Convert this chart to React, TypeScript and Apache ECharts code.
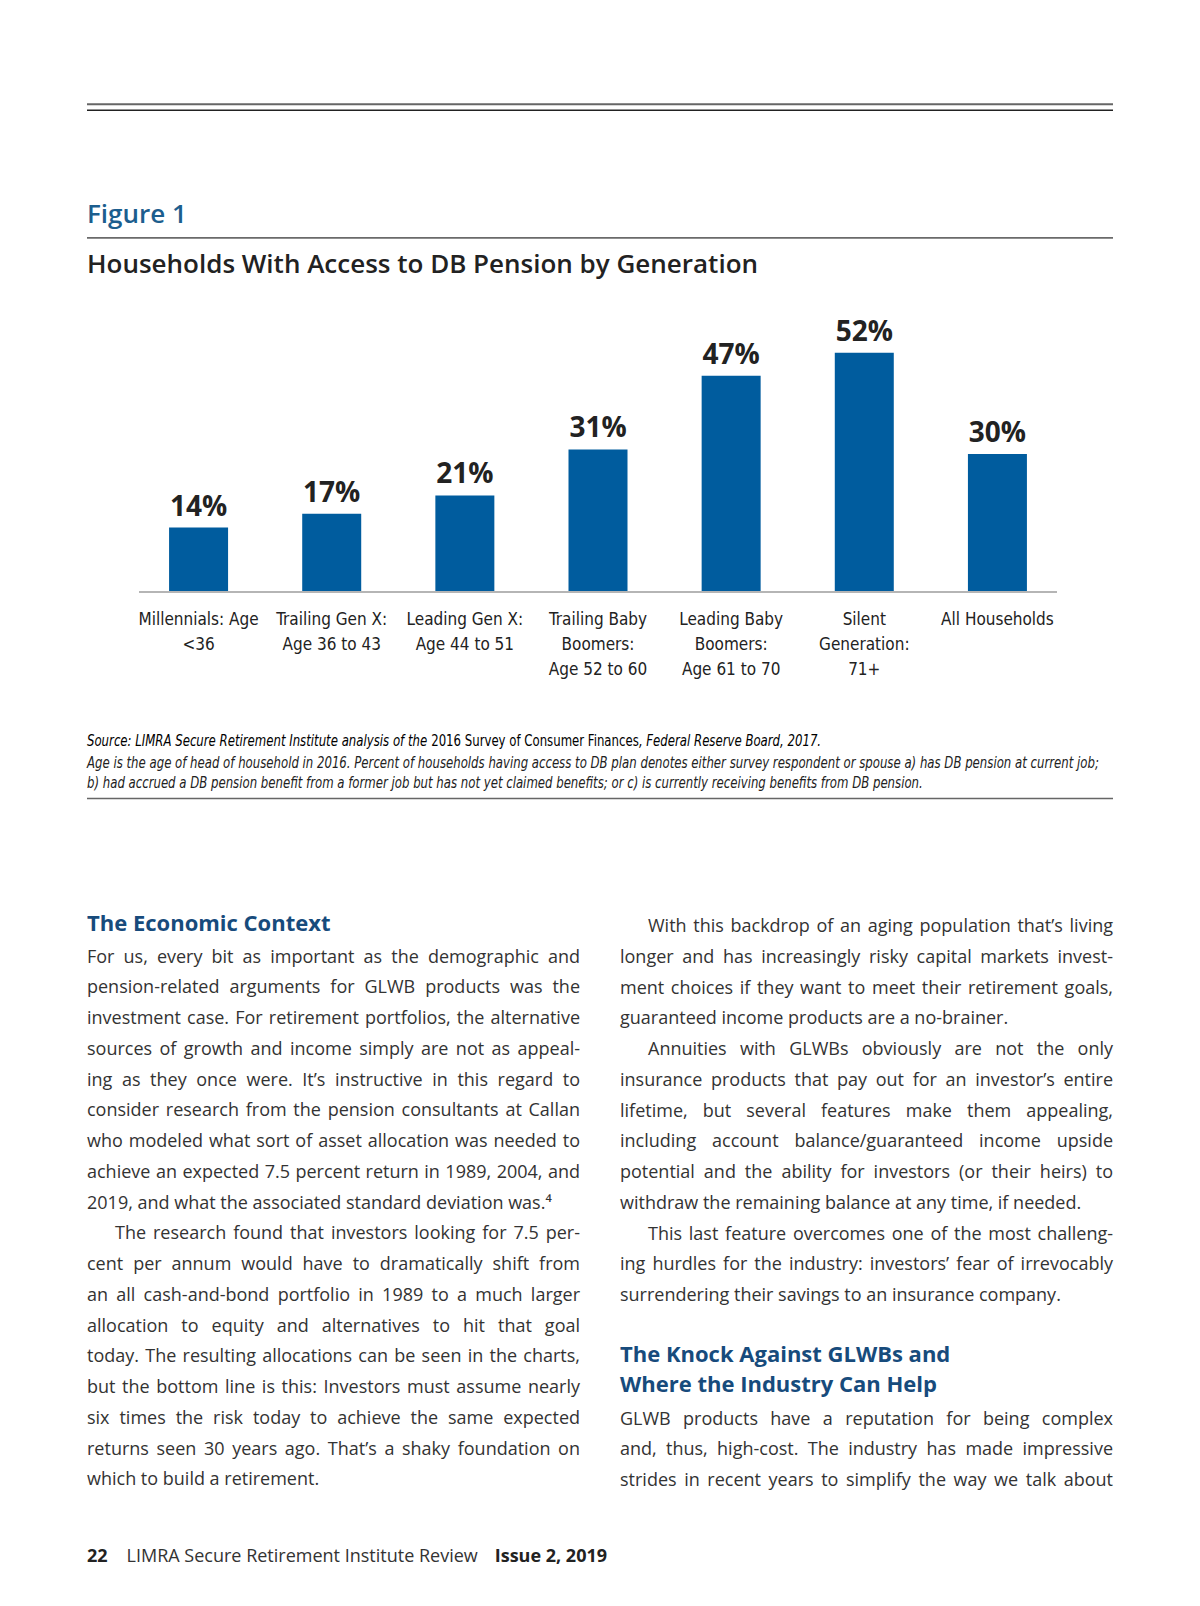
import React, { useEffect, useRef } from "react";
import * as echarts from "echarts";

const categories = [
  "Millennials: Age\n<36",
  "Trailing Gen X:\nAge 36 to 43",
  "Leading Gen X:\nAge 44 to 51",
  "Trailing Baby\nBoomers:\nAge 52 to 60",
  "Leading Baby\nBoomers:\nAge 61 to 70",
  "Silent\nGeneration:\n71+",
  "All Households",
];
const values = [14, 17, 21, 31, 47, 52, 30];

const figureLabel = "Figure 1";
const chartTitle = "Households With Access to DB Pension by Generation";
const sourceLine2 =
  "Age is the age of head of household in 2016. Percent of households having access to DB plan denotes either survey respondent or spouse a) has DB pension at current job;";
const sourceLine3 =
  "b) had accrued a DB pension benefit from a former job but has not yet claimed benefits; or c) is currently receiving benefits from DB pension.";

// [text, indent, justify]
type L = [string, boolean, boolean];
const leftHeading = "The Economic Context";
const leftLines: L[] = [
  ["For us, every bit as important as the demographic and", false, true],
  ["pension-related arguments for GLWB products was the", false, true],
  ["investment case. For retirement portfolios, the alternative", false, true],
  ["sources of growth and income simply are not as appeal-", false, true],
  ["ing as they once were. It\u2019s instructive in this regard to", false, true],
  ["consider research from the pension consultants at Callan", false, true],
  ["who modeled what sort of asset allocation was needed to", false, true],
  ["achieve an expected 7.5 percent return in 1989, 2004, and", false, true],
  ["2019, and what the associated standard deviation was.\u2074", false, false],
  ["The research found that investors looking for 7.5 per-", true, true],
  ["cent per annum would have to dramatically shift from", false, true],
  ["an all cash-and-bond portfolio in 1989 to a much larger", false, true],
  ["allocation to equity and alternatives to hit that goal", false, true],
  ["today. The resulting allocations can be seen in the charts,", false, true],
  ["but the bottom line is this: Investors must assume nearly", false, true],
  ["six times the risk today to achieve the same expected", false, true],
  ["returns seen 30 years ago. That\u2019s a shaky foundation on", false, true],
  ["which to build a retirement.", false, false],
];
const rightLinesA: L[] = [
  ["With this backdrop of an aging population that\u2019s living", true, true],
  ["longer and has increasingly risky capital markets invest-", false, true],
  ["ment choices if they want to meet their retirement goals,", false, true],
  ["guaranteed income products are a no-brainer.", false, false],
  ["Annuities with GLWBs obviously are not the only", true, true],
  ["insurance products that pay out for an investor\u2019s entire", false, true],
  ["lifetime, but several features make them appealing,", false, true],
  ["including account balance/guaranteed income upside", false, true],
  ["potential and the ability for investors (or their heirs) to", false, true],
  ["withdraw the remaining balance at any time, if needed.", false, false],
  ["This last feature overcomes one of the most challeng-", true, true],
  ["ing hurdles for the industry: investors\u2019 fear of irrevocably", false, true],
  ["surrendering their savings to an insurance company.", false, false],
];
const rightHeading = ["The Knock Against GLWBs and", "Where the Industry Can Help"];
const rightLinesB: L[] = [
  ["GLWB products have a reputation for being complex", false, true],
  ["and, thus, high-cost. The industry has made impressive", false, true],
  ["strides in recent years to simplify the way we talk about", false, true],
];
const footerPage = "22";
const footerPub = "LIMRA Secure Retirement Institute Review";
const footerIssue = "Issue 2, 2019";

const NARROW = '"DejaVu Sans Condensed", "Liberation Sans Narrow", sans-serif';
const SANS = '"Open Sans", "Noto Sans", sans-serif';
const LH = 30.75;
const COLW = 493;

function TextLine({ x, y, line }: { x: number; y: number; line: L }) {
  const [text, indent, justify] = line;
  const ind = indent ? 28 : 0;
  return (
    <div
      style={{
        position: "absolute",
        left: x + ind,
        top: y - LH / 2,
        width: COLW - ind,
        height: LH,
        lineHeight: LH + "px",
        whiteSpace: "nowrap",
        textAlign: justify ? "justify" : "left",
        textAlignLast: justify ? "justify" : "left",
        fontFamily: SANS,
        fontSize: 18,
        color: "#333",
      } as React.CSSProperties}
    >
      {text}
    </div>
  );
}

function Heading({ x, y, text }: { x: number; y: number; text: string }) {
  return (
    <div
      style={{
        position: "absolute",
        left: x,
        top: y - 15,
        height: 30,
        lineHeight: "30px",
        whiteSpace: "nowrap",
        fontFamily: SANS,
        fontWeight: 700,
        fontSize: 22,
        color: "#174b7c",
      }}
    >
      {text}
    </div>
  );
}

export default function App() {
  const ref = useRef<HTMLDivElement>(null);
  useEffect(() => {
    if (!ref.current) return;
    const chart = echarts.init(ref.current, undefined, { renderer: "svg" });
    const SX = 0.87;
    const italic = {
      fontFamily: NARROW,
      fontSize: 15,
      fontStyle: "italic",
      fill: "#222",
    };
    chart.setOption({
      animation: false,
      grid: { left: 132, width: 932, top: 316, height: 276, outerBoundsMode: "none" },
      xAxis: {
        type: "category",
        data: categories,
        axisTick: { show: false },
        axisLine: { show: false },
        axisLabel: {
          interval: 0,
          margin: 14,
          fontSize: 17,
          lineHeight: 25,
          color: "#222",
          fontFamily: NARROW,
        },
      },
      yAxis: { type: "value", min: 0, max: 60, show: false },
      series: [
        {
          type: "bar",
          data: values,
          barWidth: 59,
          itemStyle: { color: "#005c9e" },
          label: {
            show: true,
            position: "top",
            distance: 9,
            formatter: "{c}%",
            fontSize: 28,
            fontWeight: "bold",
            fontFamily: SANS,
            color: "#222",
          },
        },
      ],
      graphic: [
        { type: "line", shape: { x1: 87, y1: 104.3, x2: 1113, y2: 104.3 }, style: { stroke: "#666", lineWidth: 2 } },
        { type: "line", shape: { x1: 87, y1: 110.3, x2: 1113, y2: 110.3 }, style: { stroke: "#222", lineWidth: 1.6 } },
        {
          type: "text",
          x: 87,
          y: 212.5,
          style: { text: figureLabel, fontFamily: SANS, fontSize: 26, fontWeight: 600, fill: "#1c5e8e", verticalAlign: "middle" },
        },
        { type: "line", shape: { x1: 87, y1: 237.8, x2: 1113, y2: 237.8 }, style: { stroke: "#6a6a6a", lineWidth: 1.8 } },
        {
          type: "text",
          x: 87,
          y: 263,
          style: { text: chartTitle, fontFamily: SANS, fontSize: 26, fontWeight: 600, fill: "#222", verticalAlign: "middle" },
        },
        // axis baseline
        { type: "line", z: 10, shape: { x1: 139, y1: 592, x2: 1057, y2: 592 }, style: { stroke: "#b5b5b5", lineWidth: 2 } },
        {
          type: "text",
          x: 87,
          y: 741,
          scaleX: SX,
          style: {
            text: "{i|Source: LIMRA Secure Retirement Institute analysis of the }{n|2016 Survey of Consumer Finances}{i|, Federal Reserve Board, 2017.}",
            verticalAlign: "middle",
            rich: {
              i: { fontFamily: NARROW, fontSize: 15, fontStyle: "italic", color: "#222" },
              n: { fontFamily: NARROW, fontSize: 15, fontStyle: "normal", color: "#222" },
            },
          },
        },
        { type: "text", x: 87, y: 762.5, scaleX: SX, style: { ...italic, text: sourceLine2, verticalAlign: "middle" } },
        { type: "text", x: 87, y: 783, scaleX: SX, style: { ...italic, text: sourceLine3, verticalAlign: "middle" } },
        { type: "line", shape: { x1: 87, y1: 798.5, x2: 1113, y2: 798.5 }, style: { stroke: "#666", lineWidth: 1.5 } },
      ],
    });
    return () => chart.dispose();
  }, []);

  const lx = 87;
  const rx = 620;
  return (
    <div style={{ position: "absolute", left: 0, top: 0, width: 1200, height: 1606, background: "#fff", overflow: "hidden" }}>
      <div ref={ref} style={{ position: "absolute", left: 0, top: 0, width: 1200, height: 820 }} />
      <Heading x={lx} y={921.5} text={leftHeading} />
      {leftLines.map((l, i) => (
        <TextLine key={"l" + i} x={lx} y={956 + i * LH} line={l} />
      ))}
      {rightLinesA.map((l, i) => (
        <TextLine key={"r" + i} x={rx} y={925.5 + i * LH} line={l} />
      ))}
      <Heading x={rx} y={1353} text={rightHeading[0]} />
      <Heading x={rx} y={1383} text={rightHeading[1]} />
      {rightLinesB.map((l, i) => (
        <TextLine key={"b" + i} x={rx} y={1418 + i * LH} line={l} />
      ))}
      <div
        style={{
          position: "absolute",
          left: 87,
          top: 1540,
          height: 30,
          lineHeight: "30px",
          whiteSpace: "nowrap",
          fontFamily: SANS,
          fontSize: 18,
          color: "#333",
        }}
      >
        <span style={{ fontWeight: 700, color: "#222" }}>{footerPage}</span>
        <span style={{ marginLeft: 19 }}>{footerPub}</span>
        <span style={{ marginLeft: 17, fontWeight: 700, color: "#222" }}>{footerIssue}</span>
      </div>
    </div>
  );
}
